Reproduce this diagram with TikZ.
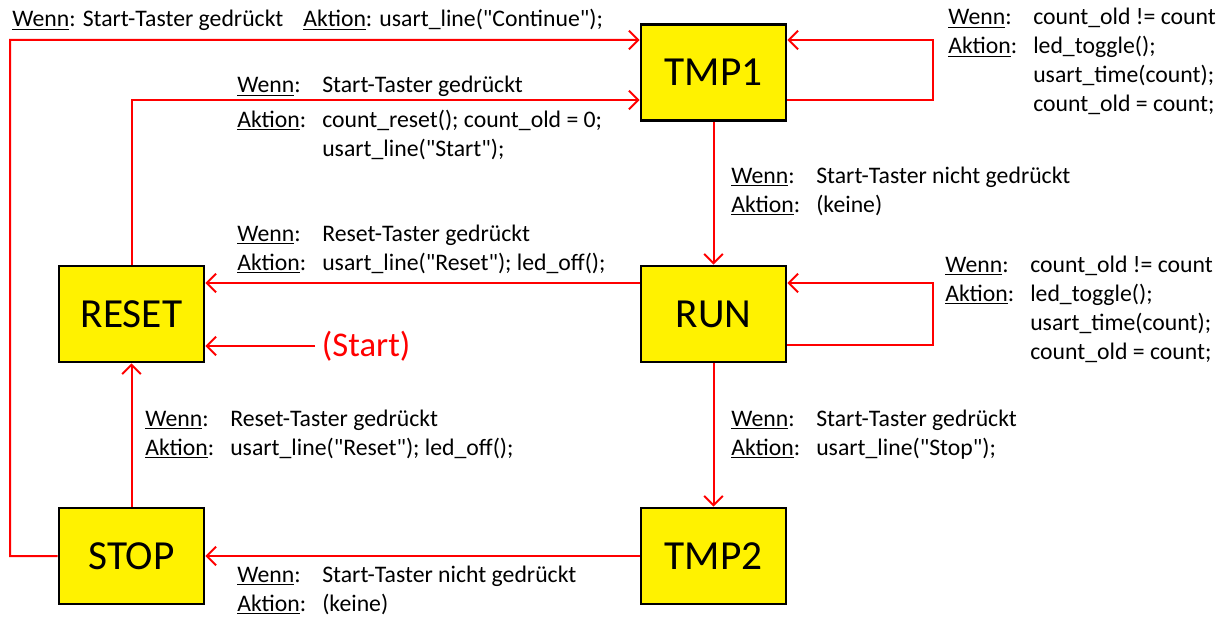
\documentclass[tikz,border=0pt]{standalone}
\usepackage{fontspec}
\setmainfont{Carlito}[Ligatures=TeXOff]
\usetikzlibrary{arrows.meta}

\tikzset{
  state/.style={draw=black, line width=2pt, fill=yellow, minimum width=108.75pt,
    minimum height=72pt, inner sep=0pt, font=\fontsize{31}{36}\selectfont},
  trans/.style={draw=red, line width=1.5pt,
    -{Straight Barb[length=7pt,width=14pt,line width=1.5pt]}},
  cond/.style={anchor=base west, inner sep=0pt, font=\fontsize{17.8}{21.75}\selectfont},
}
\newcommand{\bed}[3][0pt]{\begin{tabular}[t]{@{}p{63.75pt}@{}l@{}}%
  \underline{Wenn}: & #2\\[#1]\underline{Aktion}: & #3\end{tabular}}

\begin{document}
\begin{tikzpicture}[x=0.75pt, y=-0.75pt]
\useasboundingbox (0,0) rectangle (1223,617);

% states
\node[state] (tmp1) at (713.5,72.5) {TMP1};
\node[state] (run) at (713.5,314) {RUN};
\node[state] (tmp2) at (713.5,556) {TMP2};
\node[state] (reset) at (131.5,314) {RESET};
\node[state] (stop) at (131.5,556) {STOP};

% transitions
\coordinate (corner) at (10,40);
\coordinate (start) at (315,346);
\draw[trans] (stop.west) -| (corner) -- ([yshift=24.4pt]tmp1.west);
\draw[trans] (reset.north) |- ([yshift=-20.6pt]tmp1.west);
\draw[trans] ([yshift=-20.6pt]tmp1.east) -- ++(146,0) |- ([yshift=24.4pt]tmp1.east);
\draw[trans] (tmp1.south) -- (run.north);
\draw[trans] ([yshift=23.25pt]run.west) -- ([yshift=23.25pt]reset.east);
\draw[trans] ([yshift=-23.25pt]run.east) -- ++(146,0) |- ([yshift=23.25pt]run.east);
\draw[trans] (run.south) -- (tmp2.north);
\draw[trans] (tmp2.west) -- (stop.east);
\draw[trans] (stop.north) -- (reset.south);
\node[red, anchor=west, inner sep=0pt, inner xsep=5pt,
  font=\fontsize{26}{30}\selectfont] (startlbl) at (start) {(Start)};
\draw[trans] (start) -- ([yshift=-24pt]reset.east);

% conditions
\node[cond] (c1) at (12,27) {\underline{Wenn}: Start-Taster gedrückt\hspace{15pt}\underline{Aktion}: usart\_line("Continue");};
\node[cond] (c2) at (237,93) {\bed[4pt]{Start-Taster gedrückt}{count\_reset(); count\_old = 0;\\ & usart\_line("Start");}};
\node[cond] (c3) at (948,25) {\bed{count\_old != count}{led\_toggle();\\ & usart\_time(count);\\ & count\_old = count;}};
\node[cond] (c4) at (731,183) {\bed{Start-Taster nicht gedrückt}{(keine)}};
\node[cond] (c5) at (237,241) {\bed{Reset-Taster gedrückt}{usart\_line("Reset"); led\_off();}};
\node[cond] (c6) at (945,272) {\bed{count\_old != count}{led\_toggle();\\ & usart\_time(count);\\ & count\_old = count;}};
\node[cond] (c7) at (731,426) {\bed{Start-Taster gedrückt}{usart\_line("Stop");}};
\node[cond] (c8) at (145,426) {\bed{Reset-Taster gedrückt}{usart\_line("Reset"); led\_off();}};
\node[cond] (c9) at (237,582) {\bed{Start-Taster nicht gedrückt}{(keine)}};
\end{tikzpicture}
\end{document}
